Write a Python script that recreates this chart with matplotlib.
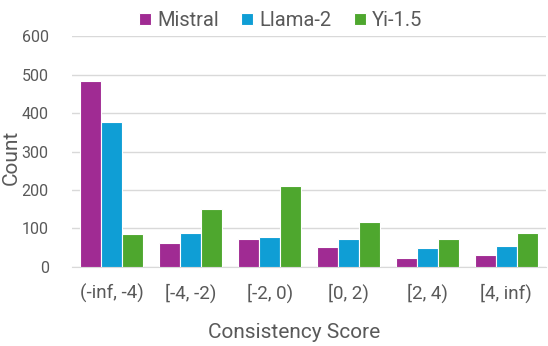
import matplotlib
matplotlib.use("Agg")
import matplotlib.pyplot as plt
import numpy as np

categories = ["(-inf, -4)", "[-4, -2)", "[-2, 0)", "[0, 2)", "[2, 4)", "[4, inf)"]
series_names = ["Mistral", "Llama-2", "Yi-1.5"]
mistral = [483, 62, 71, 51, 22, 31]
llama2 = [376, 89, 78, 73, 50, 54]
yi15 = [85, 150, 209, 116, 72, 88]
colors = ["#A02B93", "#0F9ED5", "#4EA72E"]

plt.rcParams['font.family'] = ['Roboto', 'DejaVu Sans']
text_color = "#595959"

fig = plt.figure(figsize=(5.48, 3.46), dpi=100)
ax = fig.add_axes([0.132, 0.229, 0.864, 0.666])

x = np.arange(len(categories))
w = 0.265
for i, (vals, name, c) in enumerate(zip([mistral, llama2, yi15], series_names, colors)):
    ax.bar(x + (i - 1) * w, vals, width=w, color=c, edgecolor="white", linewidth=0.8, label=name, zorder=3)

ax.set_xlim(-0.5, len(categories) - 0.5)
ax.set_ylim(0, 600)
ax.set_yticks(range(0, 601, 100))
ax.set_xticks(x)
ax.set_xticklabels(categories)
ax.grid(axis="y", color="#D9D9D9", linewidth=1, zorder=0)
for s in ["top", "right", "left"]:
    ax.spines[s].set_visible(False)
ax.spines["bottom"].set_color("#D9D9D9")
ax.tick_params(axis="x", length=0, labelsize=13.5, colors=text_color, pad=12)
ax.tick_params(axis="y", length=0, labelsize=11.5, colors=text_color, pad=17)
ax.set_xlabel("Consistency Score", fontsize=15, color=text_color)
ax.xaxis.set_label_coords(0.468, -0.243)
ax.set_ylabel("Count", fontsize=15, color=text_color)
ax.yaxis.set_label_coords(-0.11, 0.476)

leg = ax.legend(loc="lower center", bbox_to_anchor=(0.44, 0.975), ncol=3, frameon=False,
                fontsize=14.5, handlelength=0.6, handleheight=0.6, handletextpad=0.3,
                columnspacing=1.1, borderaxespad=0.2)
for t in leg.get_texts():
    t.set_color(text_color)

fig.savefig("out.png", dpi=100)
